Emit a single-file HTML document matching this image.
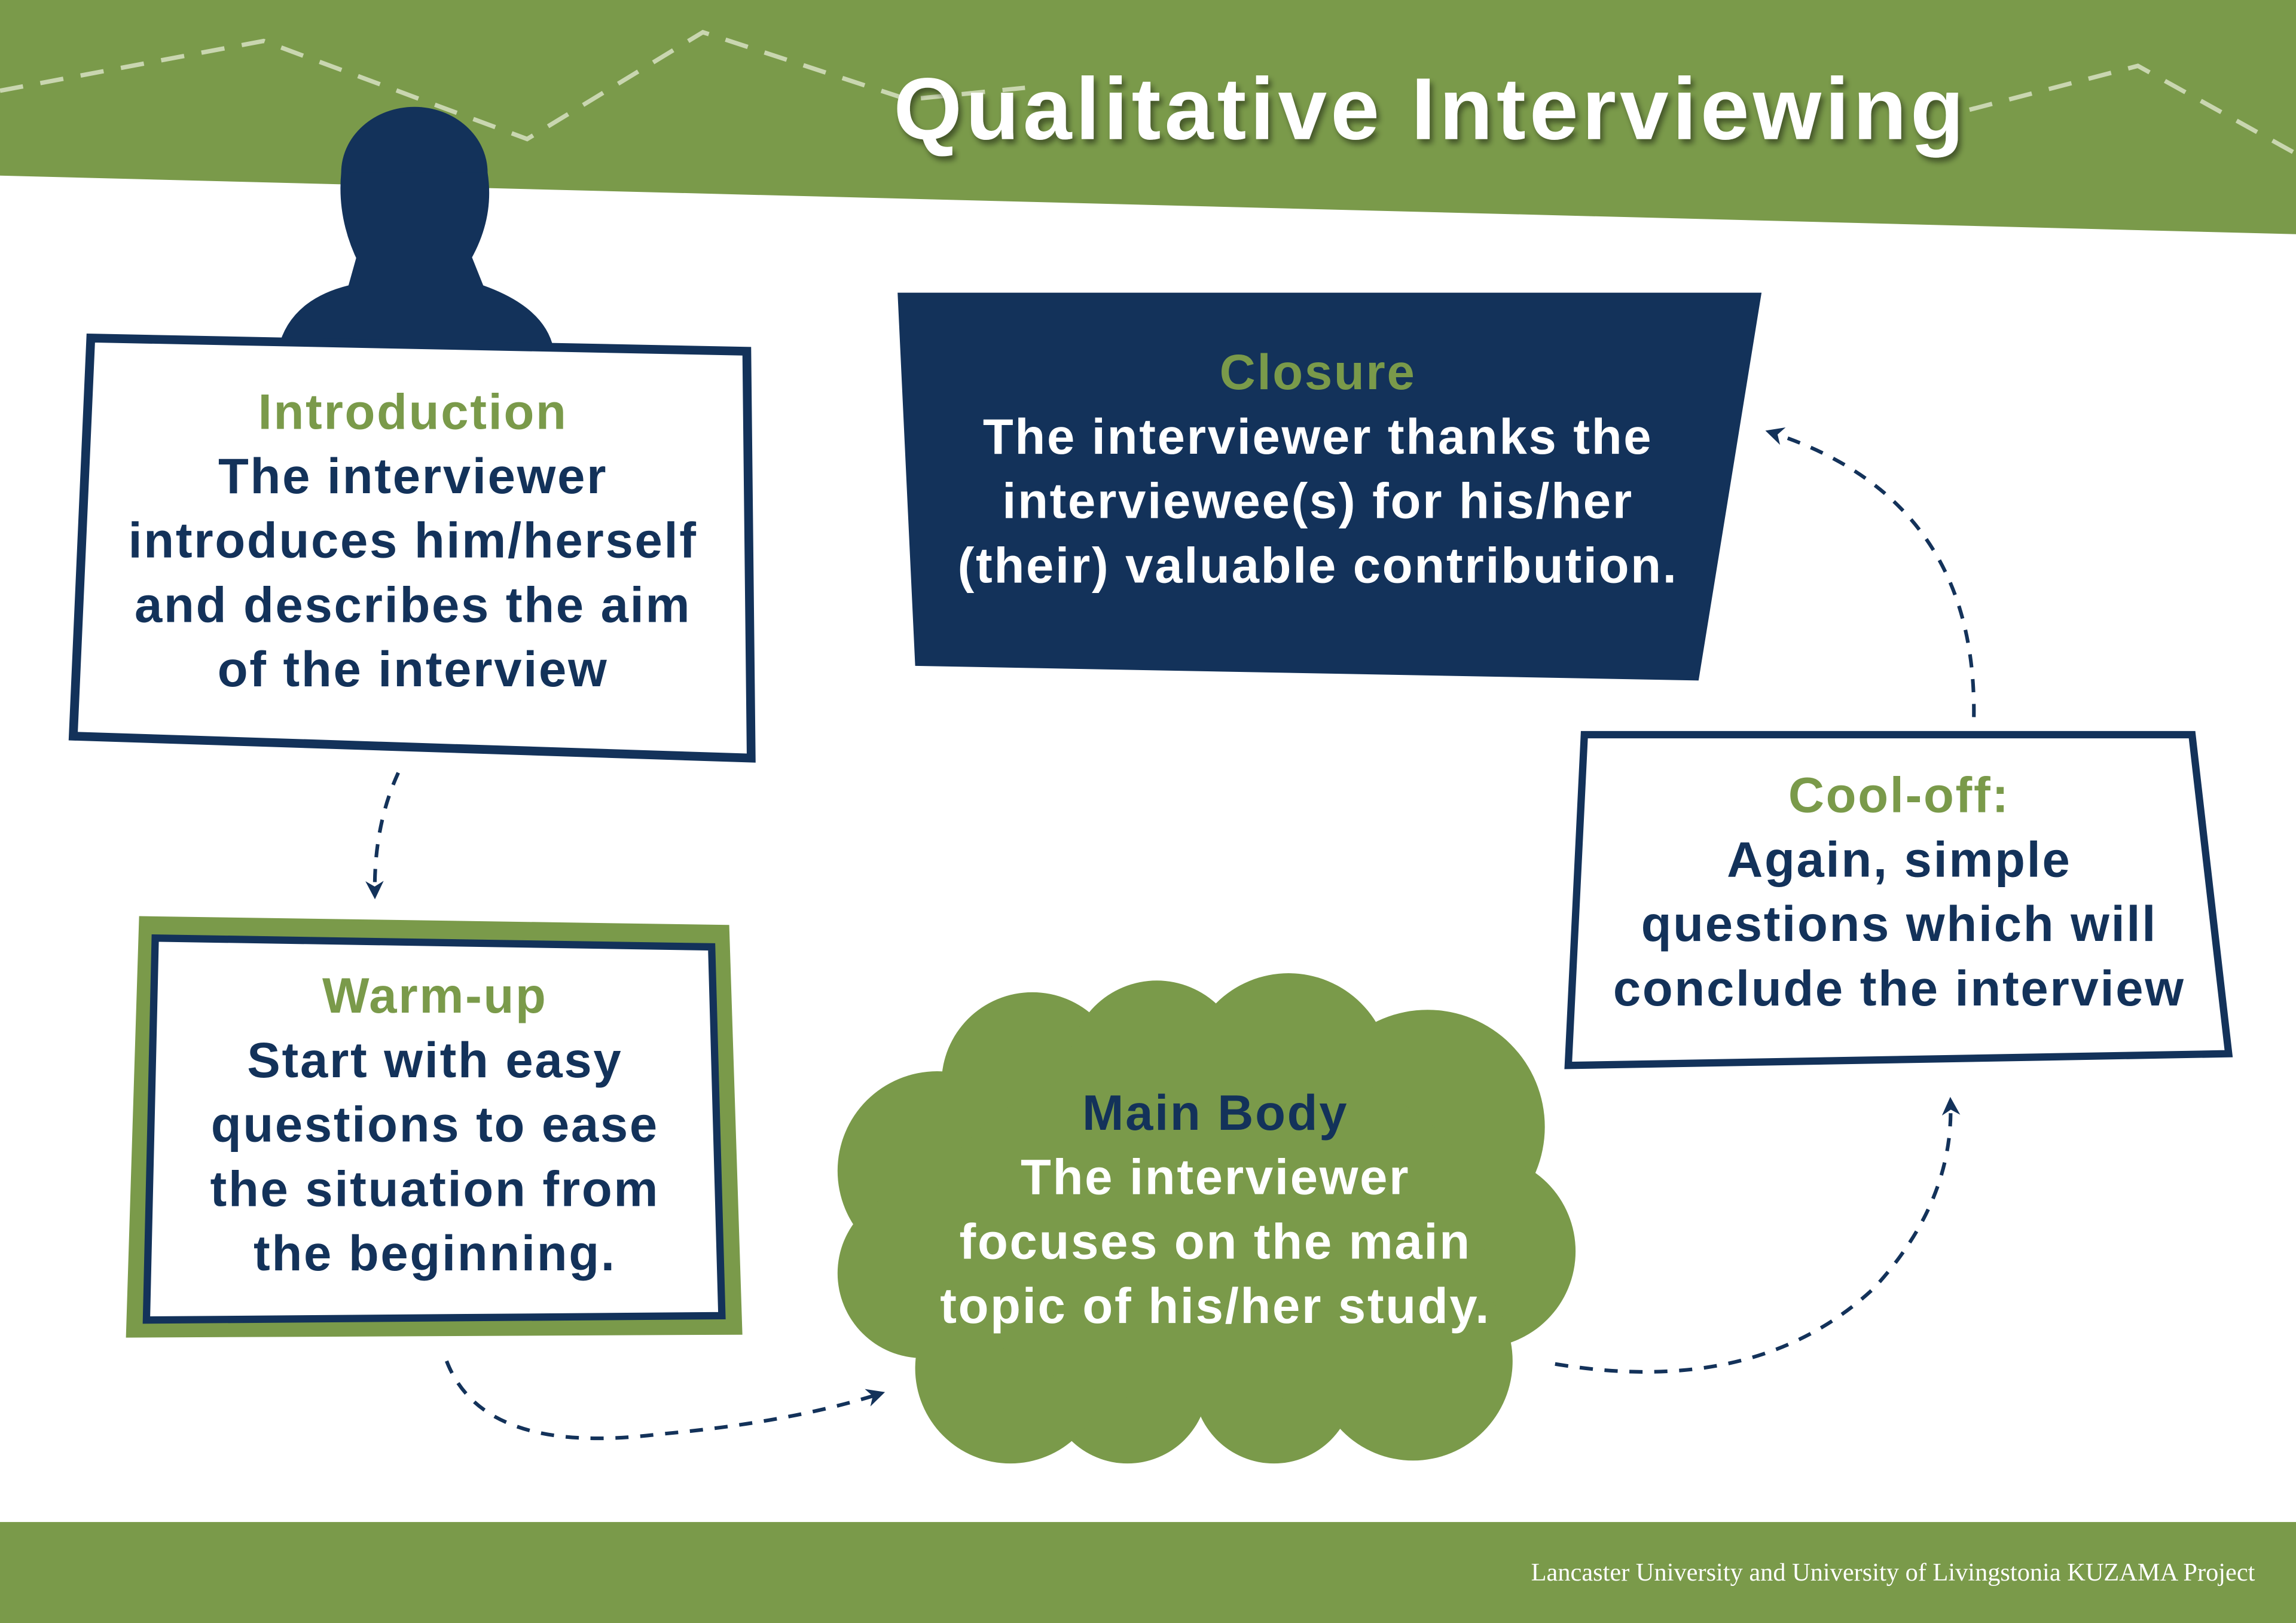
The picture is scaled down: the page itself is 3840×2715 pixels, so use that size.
<!DOCTYPE html>
<html><head><meta charset="utf-8"><style>
html,body{margin:0;padding:0;background:#fff}
svg{display:block}
text{font-family:"Liberation Sans","DejaVu Sans",sans-serif;text-anchor:middle}
.b{letter-spacing:1.1px}
</style></head><body>
<svg width="3840" height="2715" viewBox="0 0 1568 1109" preserveAspectRatio="none" xmlns="http://www.w3.org/2000/svg">
<defs>
<marker id="ah" viewBox="0 0 10 10" refX="8" refY="5" markerWidth="5" markerHeight="5" orient="auto">
<path d="M0,0 L10,5 L0,10 L3,5 Z" fill="#13325a"/></marker>
<filter id="sh"><feDropShadow dx="2" dy="3" stdDeviation="2" flood-color="#000" flood-opacity="0.45"/></filter>
</defs>
<rect width="1568" height="1109" fill="#fff"/>
<polygon points="0,0 1568,0 1568,160 0,120" fill="#7a9a4a"/>
<polyline points="0,62 180,28 360,95 480,22 620,68 700,60" fill="none" stroke="#c9d6b0" stroke-width="3" stroke-dasharray="16,12"/>
<polyline points="1345,75 1460,45 1568,105" fill="none" stroke="#c9d6b0" stroke-width="3" stroke-dasharray="16,12"/>
<text x="977" y="95" font-size="60" font-weight="bold" fill="#fff" filter="url(#sh)" style="letter-spacing:2.5px">Qualitative Interviewing</text>

<!-- person -->
<ellipse cx="283" cy="118" rx="50" ry="45" fill="#13325a"/>
<path d="M233,118 Q230,150 245,180 Q283,205 320,180 Q338,150 333,118 Z" fill="#13325a"/>
<path d="M245,170 L320,170 L330,195 Q372,210 378,238 L190,238 Q198,205 238,195 Z" fill="#13325a"/>

<!-- Intro box -->
<polygon points="62,231 510,240 513,518 50,503" fill="#fff" stroke="#13325a" stroke-width="6"/>
<g font-size="34" font-weight="bold" class="b">
<text x="282" y="293" fill="#7a9a4a">Introduction</text>
<text x="282" y="337" fill="#13325a">The interviewer</text>
<text x="282" y="381" fill="#13325a">introduces him/herself</text>
<text x="282" y="425" fill="#13325a">and describes the aim</text>
<text x="282" y="469" fill="#13325a">of the interview</text>
</g>

<!-- Warm-up -->
<polygon points="95,626 498,632 507,912 86,914" fill="#7a9a4a"/>
<polygon points="106,641 486,647 493,899 100,902" fill="#fff" stroke="#13325a" stroke-width="5"/>
<g font-size="34" font-weight="bold" class="b">
<text x="297" y="692" fill="#7a9a4a">Warm-up</text>
<text x="297" y="736" fill="#13325a">Start with easy</text>
<text x="297" y="780" fill="#13325a">questions to ease</text>
<text x="297" y="824" fill="#13325a">the situation from</text>
<text x="297" y="868" fill="#13325a">the beginning.</text>
</g>

<!-- Closure -->
<polygon points="613,200 1203,200 1160,465 625,455" fill="#13325a"/>
<g font-size="34" font-weight="bold" class="b">
<text x="900" y="266" fill="#7a9a4a">Closure</text>
<text x="900" y="310" fill="#fff">The interviewer thanks the</text>
<text x="900" y="354" fill="#fff">interviewee(s) for his/her</text>
<text x="900" y="398" fill="#fff">(their) valuable contribution.</text>
</g>

<!-- Cool-off -->
<polygon points="1082,502 1497,502 1522,720 1071,728" fill="#fff" stroke="#13325a" stroke-width="5"/>
<g font-size="34" font-weight="bold" class="b">
<text x="1297" y="555" fill="#7a9a4a">Cool-off:</text>
<text x="1297" y="599" fill="#13325a">Again, simple</text>
<text x="1297" y="643" fill="#13325a">questions which will</text>
<text x="1297" y="687" fill="#13325a">conclude the interview</text>
</g>

<!-- Cloud -->
<g fill="#7a9a4a">
<circle cx="640" cy="800" r="68"/><circle cx="705" cy="740" r="62"/><circle cx="790" cy="730" r="60"/>
<circle cx="880" cy="735" r="70"/><circle cx="975" cy="770" r="80"/><circle cx="1010" cy="855" r="66"/>
<circle cx="965" cy="930" r="68"/><circle cx="870" cy="945" r="55"/><circle cx="770" cy="945" r="55"/>
<circle cx="690" cy="935" r="65"/><circle cx="630" cy="870" r="58"/><ellipse cx="825" cy="840" rx="190" ry="120"/>
</g>
<g font-size="34" font-weight="bold" class="b">
<text x="830" y="772" fill="#13325a">Main Body</text>
<text x="830" y="816" fill="#fff">The interviewer</text>
<text x="830" y="860" fill="#fff">focuses on the main</text>
<text x="830" y="904" fill="#fff">topic of his/her study.</text>
</g>

<!-- arrows -->
<g fill="none" stroke="#13325a" stroke-width="2.5" stroke-dasharray="9,8">
<path d="M272,528 Q255,565 256,612" marker-end="url(#ah)"/>
<path d="M305,930 Q330,995 450,980 Q540,972 602,952" marker-end="url(#ah)"/>
<path d="M1062,932 Q1200,955 1280,880 Q1335,820 1332,752" marker-end="url(#ah)"/>
<path d="M1348,490 Q1350,340 1208,295" marker-end="url(#ah)"/>
</g>

<!-- footer -->
<rect x="0" y="1040" width="1568" height="69" fill="#7a9a4a"/>
<text x="1540" y="1080" font-size="17.3" fill="#fff" style="text-anchor:end;font-family:'Liberation Serif',serif">Lancaster University and University of Livingstonia KUZAMA Project</text>
</svg>
</body></html>
